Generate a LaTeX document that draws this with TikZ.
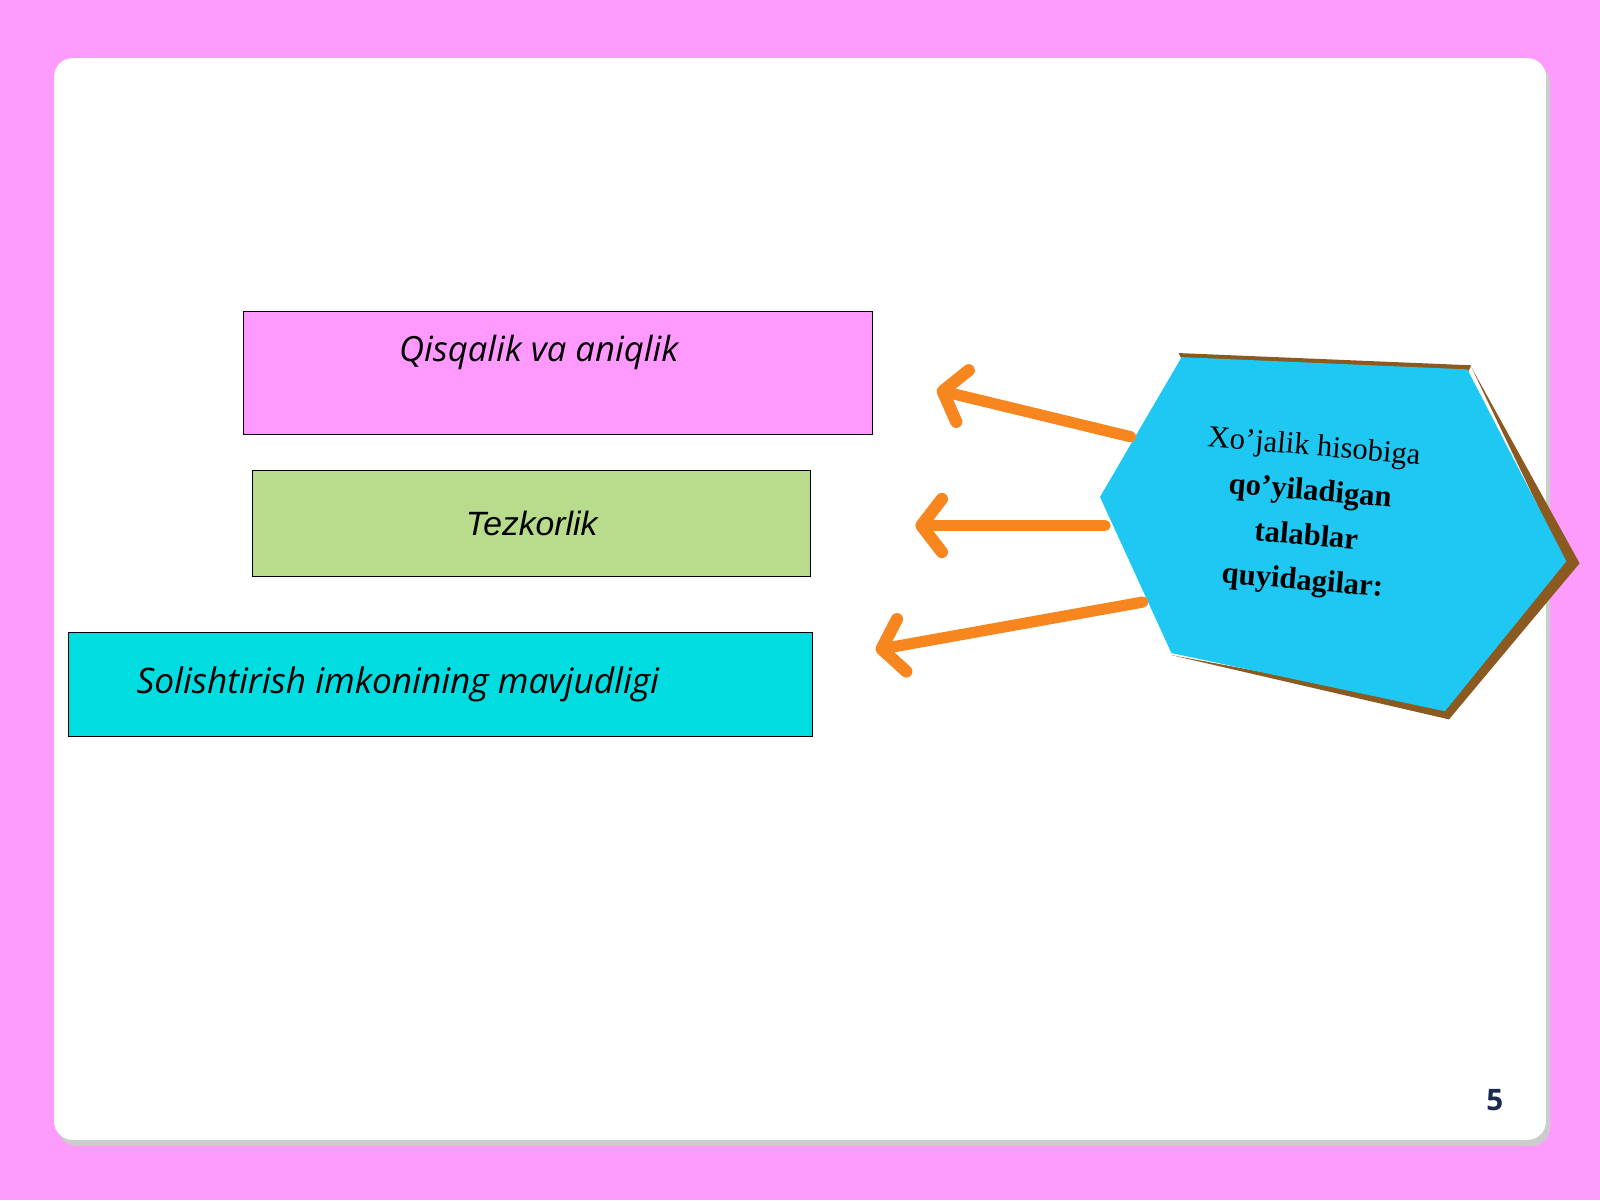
\documentclass[tikz,border=0pt]{standalone}
\usepackage{fontspec}
\setmainfont{Liberation Serif}
\newfontfamily\opensans{Open Sans}
\newfontfamily\lsans{Liberation Sans}
\usetikzlibrary{arrows.meta,shadows}
\definecolor{bgpink}{HTML}{FD9CFD}
\definecolor{boxpink}{HTML}{FF99FF}
\definecolor{boxgreen}{HTML}{B8DC8C}
\definecolor{boxcyan}{HTML}{00DCE0}
\definecolor{hexcyan}{HTML}{1EC8F2}
\definecolor{hexedge}{HTML}{8A5A20}
\definecolor{arr}{HTML}{F7861E}
\definecolor{navy}{HTML}{1A2A50}
\tikzset{
  box/.style={draw=black,line width=1pt,anchor=north west,inner sep=0pt},
  arrowline/.style={arr,line width=11pt,line cap=round,-{Straight Barb[length=20pt,width=52pt,line width=12pt,round]}}
}
\begin{document}
\begin{tikzpicture}[x=1pt,y=-1pt]
\useasboundingbox (0,0) rectangle (1568,1176);
\fill[bgpink] (0,0) rectangle (1568,1176);
\fill[black!20] (57,63) [rounded corners=18pt] rectangle (1519,1123);
\fill[white,rounded corners=18pt] (53,57) rectangle (1515,1117);
% boxes
\node[box,fill=boxpink,minimum width=617pt,minimum height=120pt] (b1) at (238,305) {};
\node[font=\opensans\itshape\fontsize{34}{40}\selectfont] (t1) at (528,345) {Qisqalik va aniqlik};
\node[box,fill=boxgreen,minimum width=547pt,minimum height=103pt] (b2) at (247,461) {};
\node[font=\lsans\itshape\fontsize{33}{40}\selectfont] (t2) at (521,513) {Tezkorlik};
\node[box,fill=boxcyan,minimum width=729pt,minimum height=102pt] (b3) at (67,619) {};
\node[font=\opensans\itshape\fontsize{34.5}{40}\selectfont] (t3) at (390,671) {Solishtirish imkonining mavjudligi};
% hexagon
\fill[hexedge] (1442,360) -- (1548,552) -- (1420,705) -- (1148,642) -- (1416,692) -- (1532,548) -- cycle;
\fill[hexedge] (1155,346) -- (1442,358) -- (1438,366) -- (1158,352) -- cycle;
\fill[hexcyan] (1158,350) -- (1438,362) -- (1535,550) -- (1416,697) -- (1148,640) -- (1078,487) -- cycle;
\node[rotate=-5,align=center,font=\fontsize{30}{44}\selectfont] (hex) at (1282,505)
  {Xo’jalik hisobiga\\ \textbf{qo’yiladigan}\\ \textbf{talablar}\\ \textbf{quyidagilar:}};
% arrows
\coordinate (s1) at (1108,428); \coordinate (e1) at (918,382);
\coordinate (s2) at (1083,515); \coordinate (e2) at (897,515);
\coordinate (s3) at (1120,590); \coordinate (e3) at (858,637);
\draw[arrowline] (s1) -- (e1);
\draw[arrowline] (s2) -- (e2);
\draw[arrowline] (s3) -- (e3);
\node[font=\opensans\bfseries\fontsize{29}{34}\selectfont,text=navy] (pg) at (1465,1078) {5};
\end{tikzpicture}
\end{document}
